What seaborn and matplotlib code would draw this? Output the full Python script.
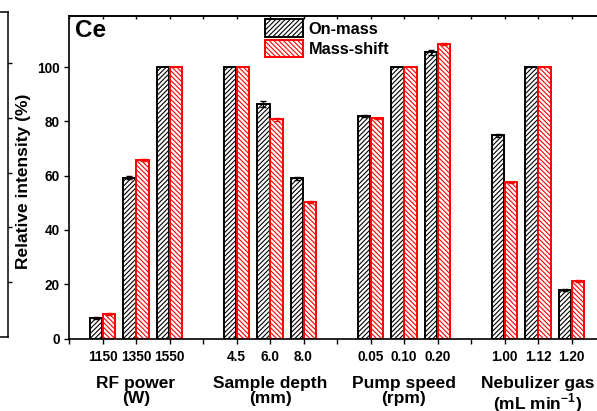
import matplotlib
matplotlib.use("Agg")
import matplotlib.pyplot as plt
import matplotlib.transforms as mtransforms
from matplotlib.patches import Patch
import numpy as np
import pandas as pd
import seaborn as sns

# data (relative intensity, %)
groups = ["RF power\n(W)", "Sample depth\n(mm)", "Pump speed\n(rpm)",
          "Nebulizer gas\n(mL min$^{\\mathbf{-1}}$)"]
params = [["1150", "1350", "1550"],
          ["4.5", "6.0", "8.0"],
          ["0.05", "0.10", "0.20"],
          ["1.00", "1.12", "1.20"]]
series = ["On-mass", "Mass-shift"]
on_mass = [7.6, 59.3, 100, 100, 86.4, 59.0, 82.1, 100, 105.4, 74.8, 100, 17.8]
on_mass_err = [0.3, 0.4, 0, 0, 1.0, 0.5, 0.4, 0, 1.0, 0.4, 0, 0.3]
mass_shift = [9.1, 65.8, 100, 100, 80.7, 50.3, 81.1, 100, 108.6, 57.5, 100, 21.1]
mass_shift_err = [0.3, 0.4, 0, 0, 0.5, 0.4, 0.3, 0, 0.3, 0.3, 0, 0.4]
colors = {"On-mass": "black", "Mass-shift": "red"}
hatches = {"On-mass": "///////", "Mass-shift": "\\\\\\\\\\\\\\"}

sns.set_style("ticks")
plt.rcParams["font.family"] = ["Liberation Sans", "DejaVu Sans"]
plt.rcParams["font.weight"] = "bold"
plt.rcParams["text.color"] = "black"
plt.rcParams["axes.labelcolor"] = "black"
plt.rcParams["xtick.color"] = "black"
plt.rcParams["ytick.color"] = "black"
plt.rcParams["axes.edgecolor"] = "black"
plt.rcParams["mathtext.fontset"] = "custom"
plt.rcParams["mathtext.rm"] = "Liberation Sans:bold"
plt.rcParams["mathtext.bf"] = "Liberation Sans:bold"
plt.rcParams["hatch.linewidth"] = 0.8

# one slot per parameter value, an empty slot between groups
pos = [gi * 4 + j + 1 for gi in range(len(groups)) for j in range(3)]
df = pd.DataFrame({
    "pos": pos * 2,
    "value": on_mass + mass_shift,
    "err": on_mass_err + mass_shift_err,
    "series": [series[0]] * len(pos) + [series[1]] * len(pos),
})

fig = plt.figure(figsize=(5.97, 4.11), dpi=100)
W, H = 597, 411
ax = fig.add_axes([69 / W, 1 - 338.5 / H, 536 / W, 322.5 / H])

sns.barplot(data=df, x="pos", y="value", hue="series", hue_order=series,
            native_scale=True, dodge=True, width=0.8, gap=0.06,
            errorbar=None, palette=colors, ax=ax, legend=False)

for cont, s in zip(ax.containers, series):
    sub = df[df["series"] == s]
    xs = []
    for p in cont.patches:
        p.set_facecolor("white")
        p.set_edgecolor(colors[s])
        p.set_hatch(hatches[s])
        p.set_linewidth(1.4)
        xs.append(p.get_x() + p.get_width() / 2)
    xs = np.array(xs)
    m = sub["err"].values > 0
    ax.errorbar(xs[m], sub["value"].values[m], yerr=sub["err"].values[m],
                fmt="none", ecolor=colors[s], elinewidth=1.0, capsize=2.5,
                capthick=1.0, zorder=3)

ax.set_xlim(0, 16)
ax.set_ylim(0, 118.8)
ax.set_yticks(np.arange(0, 101, 20))
ticks = list(range(0, 17))
labels = [""] * len(ticks)
for p, lab in zip(pos, [v for g in params for v in g]):
    labels[p] = lab
ax.set_xticks(ticks)
ax.set_xticklabels(labels)
ax.set_xlabel("")
ax.set_ylabel("")
ax.tick_params(axis="both", direction="out", length=3.5, width=1.0,
               labelsize=9.8, colors="black")
ax.tick_params(axis="x", pad=5)
ax.tick_params(axis="y", pad=3)
for lab in ax.get_xticklabels() + ax.get_yticklabels():
    lab.set_fontweight("bold")

sec = ax.secondary_xaxis("top")
sec.set_xticks(ticks)
sec.tick_params(direction="in", length=2.5, width=1.0, labeltop=False)
sec.spines["top"].set_linewidth(1.1)

for sp in ["left", "bottom", "top", "right"]:
    ax.spines[sp].set_visible(True)
    ax.spines[sp].set_linewidth(1.2)
    ax.spines[sp].set_color("black")

# group names under the tick labels
trans = mtransforms.blended_transform_factory(ax.transData, ax.transAxes)
for gi, g in enumerate(groups):
    ax.text(gi * 4 + 2, -0.115, g, transform=trans, ha="center", va="top",
            fontsize=12.5, fontweight="bold", linespacing=1.05)

ax.text(0.011, 0.99, "Ce", transform=ax.transAxes, ha="left", va="top",
        fontsize=17.5, fontweight="bold")

handles = [Patch(facecolor="white", edgecolor=colors[s], hatch=hatches[s],
                 linewidth=1.4, label=s) for s in series]
ax.legend(handles=handles, loc="upper left", bbox_to_anchor=(0.366, 0.99),
          frameon=False, handlelength=2.3, handleheight=1.3,
          handletextpad=0.35, labelspacing=0.15, borderpad=0,
          borderaxespad=0, prop={"weight": "bold", "size": 11.8})

fig.text(24 / W, 1 - 181 / H, "Relative intensity (%)", rotation=90,
         ha="center", va="center", fontsize=12.5, fontweight="bold")

# edge of the neighbouring panel on the left
ax0 = fig.add_axes([-0.3, 1 - 337 / H, 0.3 + 8 / W, 325 / H])
ax0.set_ylim(0, 5.93)
ax0.set_yticks([1, 2, 3, 4, 5])
ax0.set_xticks([])
ax0.yaxis.tick_right()
ax0.tick_params(axis="y", direction="out", length=3, width=1.0,
                labelright=False)
for sp in ["right", "top", "bottom"]:
    ax0.spines[sp].set_linewidth(1.1)
    ax0.spines[sp].set_color("black")

fig.savefig("out.png", dpi=100)
